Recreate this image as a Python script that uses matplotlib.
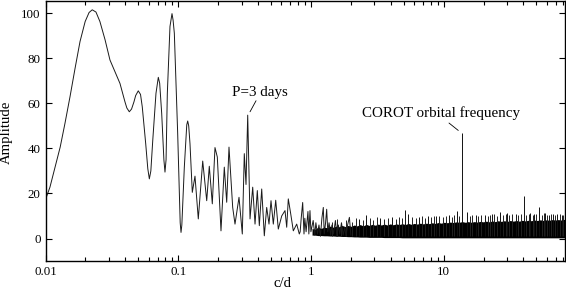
import matplotlib
matplotlib.use("Agg")
import matplotlib.pyplot as plt
from matplotlib.ticker import NullLocator, LogLocator

# ---- data ----
# resolvable part of the amplitude spectrum
freq_line = [0.0100, 0.0108, 0.0118, 0.0129, 0.0140, 0.0153, 0.0167, 0.0182, 0.0199, 0.0213,
             0.0225, 0.0240, 0.0257, 0.0281, 0.0306, 0.0334, 0.0364, 0.0397, 0.0410, 0.0428,
             0.0445, 0.0464, 0.0478, 0.0500, 0.0520, 0.0536, 0.0569, 0.0590, 0.0606, 0.0622,
             0.0643, 0.0680, 0.0708, 0.0725, 0.0751, 0.0780, 0.0795, 0.0810, 0.0828, 0.0867,
             0.0898, 0.0915, 0.0935, 0.0991, 0.1035, 0.1050, 0.1065, 0.1112, 0.1160, 0.1179,
             0.1200, 0.1227, 0.1277, 0.1338, 0.1417, 0.1530, 0.1640, 0.1715, 0.1807, 0.1893,
             0.1971, 0.2101, 0.2225, 0.2320, 0.2414, 0.2574, 0.2679, 0.2872, 0.3041, 0.3148,
             0.3243, 0.3340, 0.3477, 0.3643, 0.3792, 0.3946, 0.4086, 0.4259, 0.4455, 0.4643,
             0.4833, 0.5004, 0.5208, 0.5430, 0.5680, 0.6025, 0.6380, 0.6571, 0.6755, 0.7043,
             0.7369, 0.7816, 0.8176, 0.830, 0.845, 0.867, 0.887, 0.900, 0.920, 0.950,
             0.965, 0.984, 1.000, 1.040, 1.070, 1.090, 1.120, 1.150, 1.180, 1.210,
             1.240, 1.260, 1.290, 1.315, 1.340, 1.370, 1.410, 1.440, 1.480, 1.530,
             1.570, 1.610, 1.650, 1.700, 1.750, 1.800, 1.840, 1.890, 1.950, 2.000]
amp_line = [17.3, 22.8, 31.7, 40.6, 51.0, 63.0, 75.6, 87.5, 96.4, 100.4,
            101.6, 100.6, 96.4, 88.3, 79.3, 74.1, 68.9, 60.7, 58.0, 56.3,
            57.5, 60.7, 63.5, 65.6, 64.0, 58.5, 42.1, 31.0, 26.5, 30.0,
            43.6, 64.5, 71.6, 69.0, 55.5, 35.0, 29.5, 35.0, 64.5, 94.2,
            99.9, 97.0, 91.2, 46.6, 7.0, 2.7, 6.0, 31.7, 50.5, 52.2,
            50.0, 42.1, 20.5, 27.7, 8.7, 34.4, 16.8, 32.1, 15.4, 40.4,
            36.2, 3.4, 31.7, 16.1, 40.6, 13.8, 6.4, 18.3, 2.0, 37.7,
            24.0, 54.8, 8.7, 22.8, 6.4, 21.3, 5.7, 22.0, 1.2, 13.8,
            6.4, 16.8, 6.4, 17.0, 4.2, 10.0, 12.4, 5.0, 17.6, 11.0,
            3.4, 6.4, 2.0, 3.0, 9.0, 16.0, 2.0, 9.0, 3.0, 12.0,
            2.0, 12.4, 3.0, 8.0, 1.5, 7.0, 2.0, 6.0, 1.0, 9.0,
            13.8, 2.0, 7.0, 13.0, 3.0, 7.0, 1.5, 6.0, 2.0, 8.0,
            1.0, 6.0, 2.0, 7.0, 1.5, 5.0, 1.0, 6.0, 9.4, 1.5]

# dense (unresolved) noise band at high frequency
band_freq = [1.02, 1.07, 1.13, 1.19, 1.26, 1.32, 1.39, 1.47, 1.55, 1.63,
             1.72, 1.81, 1.91, 2.01, 2.12, 2.23, 2.35, 2.48, 2.61, 2.75,
             2.90, 3.05, 3.22, 3.39, 3.57, 3.76, 3.96, 4.17, 4.40, 4.63,
             4.88, 5.14, 5.42, 5.71, 6.01, 6.33, 6.67, 7.03, 7.40, 7.80,
             8.21, 8.65, 9.12, 9.60, 10.1, 10.7, 11.2, 11.8, 12.5, 13.1,
             13.8, 14.6, 15.3, 16.2, 17.0, 17.9, 18.9, 19.9, 21.0, 22.1,
             23.3, 24.5, 25.8, 27.2, 28.7, 30.2, 31.8, 33.5, 35.3, 37.2,
             39.2, 41.3, 43.5, 45.8, 48.3, 50.8, 53.6, 56.4, 59.4, 62.6,
             66.0, 69.5, 73.2, 77.1, 81.2, 82.0]
band_top = [4.5, 4.0, 5.0, 4.5, 5.0, 4.8, 5.5, 5.0, 5.5, 5.2,
            5.8, 5.3, 5.8, 5.4, 6.0, 5.6, 6.2, 5.6, 6.3, 5.8,
            6.3, 5.9, 6.4, 6.0, 6.4, 6.0, 6.5, 6.1, 6.5, 6.2,
            6.6, 6.2, 6.7, 6.3, 6.7, 6.4, 6.8, 6.5, 6.8, 6.6,
            7.0, 6.7, 7.1, 6.8, 7.2, 7.0, 7.3, 7.1, 7.4, 7.2,
            7.5, 7.2, 7.5, 7.2, 7.5, 7.3, 7.6, 7.4, 7.7, 7.4,
            7.8, 7.5, 7.9, 7.6, 7.9, 7.6, 8.0, 7.7, 8.0, 7.7,
            8.1, 7.8, 8.1, 7.9, 8.2, 8.0, 8.3, 8.0, 8.3, 8.1,
            8.4, 8.2, 8.4, 8.2, 8.5, 8.4]
band_low = [1.5, 1.5, 1.3, 1.3, 1.2, 1.2, 1.1, 1.1, 1.0, 1.0,
            0.9, 0.9, 0.8, 0.8, 0.7, 0.7, 0.6, 0.6, 0.6, 0.5,
            0.5, 0.5, 0.5, 0.5, 0.4, 0.4, 0.4, 0.4, 0.4, 0.4,
            0.3, 0.3, 0.3, 0.3, 0.3, 0.3, 0.3, 0.3, 0.3, 0.3,
            0.3, 0.3, 0.3, 0.3, 0.3, 0.3, 0.3, 0.3, 0.3, 0.3,
            0.3, 0.3, 0.3, 0.3, 0.3, 0.3, 0.3, 0.3, 0.3, 0.3,
            0.3, 0.3, 0.3, 0.3, 0.3, 0.3, 0.3, 0.3, 0.3, 0.3,
            0.3, 0.3, 0.3, 0.3, 0.3, 0.3, 0.3, 0.3, 0.3, 0.3,
            0.3, 0.3, 0.3, 0.3, 0.3, 0.3]

# isolated spikes rising above the noise band
spike_freq = [2.30, 2.60, 3.30, 4.10, 5.12, 5.42, 6.50, 7.60, 8.76, 11.0,
              12.56, 13.7, 14.93, 17.5, 20.5, 23.0, 26.6, 30.0, 35.0, 40.4,
              45.0, 48.0, 52.6, 58.0, 62.0, 67.1, 72.0, 78.0]
spike_amp = [8.5, 10.6, 9.0, 9.5, 12.7, 10.9, 9.5, 10.0, 10.1, 10.5,
             12.4, 46.9, 11.6, 10.5, 10.5, 11.0, 11.6, 11.5, 11.0, 19.0,
             11.5, 11.0, 14.2, 11.5, 10.5, 10.9, 11.0, 10.5]

# small spikes forming the ragged upper fringe of the noise band
fringe_freq = [1.45, 1.58, 1.70, 1.85, 2.05, 2.18, 2.45, 2.80, 2.95, 3.15,
               3.55, 3.80, 4.35, 4.60, 4.85, 5.80, 6.20, 6.90, 7.20, 8.00,
               8.40, 9.30, 9.90, 10.4, 11.5, 12.0, 13.0, 15.8, 16.5, 18.3,
               19.3, 21.6, 22.5, 24.0, 25.2, 28.0, 29.3, 31.2, 33.0, 36.5,
               38.3, 42.0, 44.2, 47.0, 50.0, 55.0, 57.2, 60.5, 64.0, 69.0,
               75.0, 80.0]
fringe_amp = [7.5, 8.5, 7.0, 8.0, 7.5, 9.0, 8.0, 9.0, 8.0, 9.5,
              8.5, 9.0, 8.5, 9.5, 9.0, 9.5, 9.0, 10.0, 9.0, 9.5,
              10.0, 10.0, 9.5, 10.0, 9.5, 10.5, 10.0, 10.0, 10.5, 10.0,
              10.5, 10.0, 10.5, 11.0, 10.0, 10.5, 11.0, 10.5, 11.0, 10.5,
              11.0, 10.5, 11.0, 10.5, 11.0, 10.5, 11.5, 10.5, 11.0, 10.5,
              11.0, 10.5]

xtick_vals = [0.01, 0.1, 1, 10]
xtick_labels = ["0.01", "0.1", "1", "10"]
ytick_vals = [0, 20, 40, 60, 80, 100]

# ---- figure ----
plt.rcParams['font.family'] = ['Liberation Serif', 'DejaVu Serif']
fig = plt.figure(figsize=(5.66, 2.94), dpi=100)
ax = fig.add_axes([0.0804, 0.1122, 0.9176, 0.8828])

ax.fill_between(band_freq, band_low, band_top, color='black', lw=0)
ax.vlines(fringe_freq, 1.0, fringe_amp, color='#222222', lw=0.7)
ax.vlines(spike_freq, 1.0, spike_amp, color='#111111', lw=0.7)
ax.plot(freq_line, amp_line, color='#1a1a1a', lw=0.7)

ax.set_xscale('log')
ax.set_xlim(0.01, 82)
ax.set_ylim(-10, 105.3)

ax.set_xticks(xtick_vals)
ax.set_xticklabels(xtick_labels)
ax.xaxis.set_minor_locator(LogLocator(base=10, subs=[2, 3, 4, 5, 6, 7, 8, 9]))
ax.set_yticks(ytick_vals)
ax.yaxis.set_minor_locator(NullLocator())

ax.tick_params(which='both', direction='in', top=True, right=True,
               labelsize=9.3, width=0.8, pad=3.5, colors='black')
ax.tick_params(which='major', length=4.3)
ax.tick_params(which='minor', length=2.6)
for s in ax.spines.values():
    s.set_linewidth(1.0)

ax.set_xlabel('c/d', fontsize=10.6)
ax.set_ylabel('Amplitude', fontsize=10.6)
ax.xaxis.set_label_coords(0.457, -0.062)
ax.yaxis.set_label_coords(-0.062, 0.497)

ax.text(0.410, 65.0, 'P=3 days', fontsize=10.8, ha='center', va='center')
ax.annotate('', xy=(0.3477, 56.3), xytext=(0.386, 61.2),
            arrowprops=dict(arrowstyle='-', lw=0.6, color='black', shrinkA=0, shrinkB=0))
ax.text(9.61, 55.6, 'COROT orbital frequency', fontsize=10.8, ha='center', va='center')
ax.annotate('', xy=(12.9, 48.0), xytext=(10.98, 51.3),
            arrowprops=dict(arrowstyle='-', lw=0.6, color='black', shrinkA=0, shrinkB=0))

fig.savefig('out.png', dpi=100)
